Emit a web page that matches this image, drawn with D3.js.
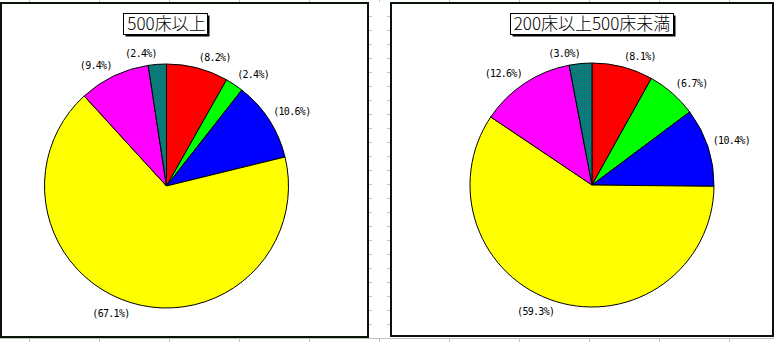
<!DOCTYPE html>
<html>
<head>
<meta charset="utf-8">
<script src="https://cdn.jsdelivr.net/npm/d3@7"></script>
<style>
	html, body { margin: 0; padding: 0; background: #fff; }
	svg { display: block; }
</style>
</head>
<body>
<div id="chart"></div>
<script>
	// slice order: clockwise from 12 o'clock
	const sliceKeys = ["red", "green", "blue", "yellow", "magenta", "teal"];
	const titles = ["500床以上", "200床以上500床未満"];
	const share500 = [8.2, 2.4, 10.6, 67.1, 9.4, 2.4];
	const share200 = [8.1, 6.7, 10.4, 59.3, 12.6, 3.0];

	const W = 774, H = 342;
	const svg = d3.select("#chart").append("svg")
		.attr("width", W)
		.attr("height", H);

	// hatched teal fill
	const defs = svg.append("defs");
	const pat = defs.append("pattern")
		.attr("id", "tealHatch")
		.attr("width", 2).attr("height", 2)
		.attr("patternUnits", "userSpaceOnUse");
	pat.append("rect").attr("width", 2).attr("height", 2).attr("fill", "#008080");
	pat.append("rect").attr("y", 1).attr("width", 1).attr("height", 1).attr("fill", "#2a6464");

	const color = d3.scaleOrdinal()
		.domain(sliceKeys)
		.range(["#ff0000", "#00ff00", "#0000ff", "#ffff00", "#ff00ff", "url(#tealHatch)"]);

	// spreadsheet grid showing through the gaps
	const grid = svg.append("g").attr("stroke", "#c0c0c0").attr("stroke-width", 1);
	const cols = d3.range(29, W, 70);
	grid.selectAll("line.top").data(cols).join("line")
		.attr("x1", d => d + 0.5).attr("x2", d => d + 0.5)
		.attr("y1", 0).attr("y2", 2);
	grid.selectAll("line.bot").data(cols).join("line")
		.attr("x1", d => d + 0.5).attr("x2", d => d + 0.5)
		.attr("y1", 338).attr("y2", H);
	grid.append("line")
		.attr("x1", 0).attr("x2", W)
		.attr("y1", 338.5).attr("y2", 338.5);
	const rows = d3.range(16, 336, 14);
	grid.selectAll("line.gl").data(rows).join("line")
		.attr("x1", 369).attr("x2", 372)
		.attr("y1", d => d + 0.5).attr("y2", d => d + 0.5);
	grid.selectAll("line.gr").data(rows).join("line")
		.attr("x1", 387).attr("x2", 390)
		.attr("y1", d => d + 0.5).attr("y2", d => d + 0.5);

	const panels = [
		{ title: titles[0], values: share500, x: 1, y: 3, w: 367, h: 334, cx: 166.5, cy: 186 },
		{ title: titles[1], values: share200, x: 391, y: 3, w: 382, h: 333, cx: 592, cy: 185 }
	];

	const radius = 122;
	const arc = d3.arc().innerRadius(0).outerRadius(radius);
	const pie = d3.pie().sort(null).value(d => d.value);

	panels.forEach(p => {
		const g = svg.append("g");

		g.append("rect")
			.attr("x", p.x).attr("y", p.y)
			.attr("width", p.w).attr("height", p.h)
			.attr("fill", "#fff")
			.attr("stroke", "#081408")
			.attr("stroke-width", 2);

		const data = pie(sliceKeys.map((k, i) => ({ key: k, value: p.values[i] })));

		const pg = g.append("g").attr("transform", `translate(${p.cx},${p.cy})`);
		pg.selectAll("path")
			.data(data)
			.join("path")
			.attr("d", arc)
			.attr("fill", d => color(d.data.key))
			.attr("stroke", "#000")
			.attr("stroke-width", 1)
			.attr("stroke-linejoin", "round");

		// labels: inner corner of the text box touches a point just outside the rim
		pg.selectAll("text")
			.data(data)
			.join("text")
			.attr("font-family", "'DejaVu Sans Mono', monospace")
			.attr("font-size", 10)
			.attr("letter-spacing", "-0.7px")
			.attr("fill", "#000")
			.each(function(d) {
				const a = (d.startAngle + d.endAngle) / 2;
				const r = radius + 5;
				const px = Math.sin(a) * r;
				const py = -Math.cos(a) * r;
				d3.select(this)
					.attr("x", px)
					.attr("y", Math.cos(a) >= 0 ? py - 2 : py + 9)
					.attr("text-anchor", Math.sin(a) >= 0 ? "start" : "end");
			})
			.text(d => "(" + d.data.value.toFixed(1) + "%)");

		// title box with drop shadow
		const tg = g.append("g");
		const t = tg.append("text")
			.attr("x", p.cx)
			.attr("y", 30)
			.attr("text-anchor", "middle")
			.attr("font-family", "'Noto Sans CJK JP', sans-serif")
			.attr("font-weight", 300)
			.attr("font-size", 17)
			.attr("fill", "#000")
			.text(p.title);
		const bb = t.node().getBBox();
		const bx = Math.round(bb.x) - 3.5, by = 13.5, bw = Math.round(bb.width) + 6, bh = 21;
		tg.insert("rect", "text")
			.attr("x", bx + 2).attr("y", by + 2)
			.attr("width", bw).attr("height", bh)
			.attr("fill", "#000");
		tg.insert("rect", "text")
			.attr("x", bx).attr("y", by)
			.attr("width", bw).attr("height", bh)
			.attr("fill", "#fff")
			.attr("stroke", "#000")
			.attr("stroke-width", 1);
	});
</script>
</body>
</html>
